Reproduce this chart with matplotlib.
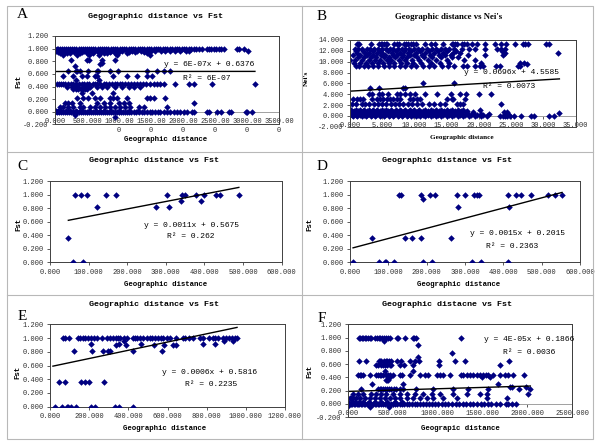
import matplotlib
matplotlib.use("Agg")
import matplotlib.pyplot as plt
from matplotlib.lines import Line2D
from matplotlib.patches import Rectangle

W, H = 600, 448
MONO = "Liberation Mono"
SERIF = "Liberation Serif"
NAVY = "#000080"

# ---------------- panel A : Gegographic distance vs Fst ----------------
a_levels = [1.0, 0.97, 0.94, 0.923, 0.896, 0.816, 0.78, 0.75, 0.72, 0.645, 0.571, 0.496,
            0.432, 0.40, 0.363, 0.304, 0.213, 0.144, 0.08, 0.02, 0.0, -0.05, -0.08]
a_rows = [
    [0, 25, 50, 80, 110, 140, 175, 205, 240, 270, 300, 335, 370, 400, 430, 465, 500, 530, 565, 600,
     630, 665, 700, 730, 770, 800, 835, 870, 900, 940, 975, 1010, 1045, 1080, 1115, 1150, 1185,
     1220, 1255, 1290, 1325, 1360, 1395, 1430, 1465, 1500, 1540, 1575, 1610, 1645, 1680, 1720,
     1755, 1790, 1830, 1870, 1905, 1940, 1980, 2015, 2050, 2090, 2130, 2170, 2210, 2250, 2290,
     2370, 2400, 2440, 2480, 2520, 2560, 2600, 2640, 2850, 2880, 2950],
    [10, 60, 120, 190, 250, 320, 380, 450, 520, 590, 660, 740, 810, 880, 960, 1040, 1120, 1200,
     1280, 1350, 1430, 1500, 1560, 1650, 1720, 1800, 1880, 1960, 2040, 2100, 3010],
    [40, 90, 150, 230, 300, 360, 420, 500, 580, 700, 780, 860, 1000, 1160, 1250, 1390, 1460],
    [78, 183, 235, 392, 496, 601, 705, 758, 810, 940, 1123, 1437],
    [130, 340, 538, 690, 967, 1490],
    [251, 507, 533, 731, 940],
    [731],
    [705],
    [313],
    [209, 329, 350, 392, 522, 653, 679, 862, 977, 1437, 1594, 1709, 1803],
    [131, 287, 418, 507, 627, 653, 914, 1123, 1280, 1437, 1515],
    [329, 690],
    [26, 57, 89, 120, 157, 209, 246, 287, 329, 371, 418, 455, 496, 538, 590, 627, 664, 705, 758,
     800, 836, 888, 930, 967, 1008, 1050, 1097, 1144, 1186, 1228, 1280, 1332, 1374, 1416, 1479,
     1541, 1594, 1636, 1698, 1881, 2090, 2168, 2455, 3124],
    [183, 261, 313, 366, 434, 486, 549, 653, 731, 810, 940, 1045, 1150, 1228, 1332],
    [287, 329, 366, 408, 444, 475, 507],
    [418, 575, 914],
    [350, 444, 522, 627, 705, 862, 914, 967, 1123, 1437, 1489, 1541, 1724],
    [157, 209, 261, 392, 653, 758, 862, 993, 1071, 1150, 2168],
    [78, 131, 209, 287, 392, 444, 549, 627, 705, 784, 862, 940, 1019, 1097, 1176, 1306, 1385, 1750],
    [10, 50, 100, 170, 240, 330, 420, 530, 640, 760, 880, 1000, 1150, 1300],
    [0, 26, 57, 89, 120, 152, 183, 214, 246, 277, 308, 340, 371, 402, 434, 465, 496, 528, 559,
     590, 622, 653, 684, 716, 747, 779, 810, 841, 873, 904, 935, 967, 998, 1029, 1061, 1092, 1123,
     1155, 1186, 1228, 1270, 1311, 1353, 1395, 1437, 1479, 1520, 1562, 1604, 1646, 1698, 1750,
     1803, 1855, 1907, 1959, 2012, 2064, 2142, 2168, 2377, 2403, 2534, 2586, 2717, 2743, 2978,
     3004, 3083],
    [313],
    [940],
]
a_fit = (6e-07, 0.6376)
a_fit_range = (0, 3124)
a_xticklabels = ["0.000", "500.000", "1000.00\n0", "1500.00\n0", "2000.00\n0",
                 "2500.00\n0", "3000.00\n0", "3500.00\n0"]
a_yticklabels = ["-0.200", "0.000", "0.200", "0.400", "0.600", "0.800", "1.000", "1.200"]

# ---------------- panel B : Geographic distance vs Nei's ----------------
b_levels = [13.3, 12.34, 11.9, 11.6, 11.23, 10.8, 10.3, 9.8, 9.5, 9.26, 6.12, 5.08, 4.03, 3.1,
            2.12, 1.08, 0.85, 0.7, 0.46, 0.35, 0.18, 0.0]
b_rows = [
    [1.04, 1.19, 1.35, 3.21, 4.51, 4.77, 5.03, 5.28, 5.54, 5.80, 6.84, 7.25, 7.62, 8.39, 8.70,
     9.07, 9.43, 9.84, 10.21, 11.66, 12.59, 13.21, 14.51, 15.80, 16.06, 16.32, 16.58, 17.36,
     17.72, 18.13, 18.91, 19.69, 20.98, 22.44, 23.42, 24.25, 25.54, 26.84, 27.20, 27.62, 30.47,
     30.83],
    [0.7, 1.3, 1.9, 2.6, 3.1, 3.8, 4.4, 4.9, 5.6, 6.2, 6.7, 7.4, 8.0, 8.6, 9.2, 9.9, 10.5, 11.2,
     12.0, 12.7, 13.3, 14.1, 14.8, 15.3, 16.2, 17.4, 18.5, 19.4, 20.9, 22.8, 23.4, 24.0],
    [0.9, 2.0, 3.5, 4.6, 5.9, 7.1, 8.4, 9.5, 10.8, 12.3, 13.6, 15.0, 16.5, 23.6],
    [1.1, 2.4, 3.0, 4.2, 5.0, 6.5, 7.7, 9.0, 10.2, 11.7, 13.0, 14.4, 16.0, 17.0, 24.1, 32.3],
    [0.5, 1.5, 2.7, 3.6, 4.8, 5.4, 6.6, 7.3, 8.2, 9.3, 10.0, 11.1, 12.4, 13.8, 14.7, 15.6, 18.3,
     21.0, 23.8],
    [1.2, 2.2, 3.3, 4.0, 5.2, 6.0, 7.0, 8.1, 8.9, 10.4, 11.5, 12.8, 14.2, 15.8, 16.8],
    [0.0, 0.8, 1.8, 2.9, 3.9, 4.7, 5.7, 6.4, 7.6, 8.5, 9.6, 10.7, 12.1, 13.4, 15.1, 17.7, 19.4],
    [0.6, 1.6, 2.5, 3.4, 4.3, 5.1, 6.1, 6.9, 7.9, 8.8, 9.8, 11.0, 12.5, 14.0, 15.4, 20.3, 26.4,
     27.0],
    [27.5],
    [0.9, 1.4, 2.1, 2.8, 3.6, 4.4, 5.3, 6.0, 6.8, 7.7, 8.5, 9.4, 10.3, 11.3, 12.2, 13.1, 14.3,
     15.2, 16.1, 17.6, 18.1, 19.4, 20.2, 20.7, 22.7, 23.3, 26.1, 26.4],
    [11.3, 16.1],
    [3.1, 4.5, 8.3, 8.6],
    [2.95, 3.37, 4.51, 4.92, 5.96, 7.25, 7.77, 8.55, 9.33, 10.1, 11.66, 13.47, 15.65, 17.1,
     17.98, 19.95, 21.87],
    [0.52, 1.04, 1.55, 2.07, 3.37, 4.15, 4.66, 5.18, 5.8, 6.22, 6.74, 7.36, 7.77, 9.33, 9.84,
     10.36, 10.88, 15.03, 15.8, 16.06, 17.88],
    [0.3, 1.0, 1.8, 2.4, 3.0, 3.7, 4.4, 5.0, 5.6, 6.3, 7.0, 7.6, 8.3, 9.0, 9.7, 10.4, 11.2, 12.2,
     13.0, 14.0, 14.8, 16.6, 17.1, 17.6, 23.4],
    [0.2, 0.9, 1.5, 2.2, 2.9, 3.6, 4.2, 4.9, 5.6, 6.3, 7.1, 7.8, 8.6, 9.3, 9.9, 10.7, 11.6, 12.5,
     13.3, 14.2, 15.0, 15.9, 16.7, 17.5, 20.1],
    [0.1, 0.6, 1.3, 2.0, 2.6, 3.4, 4.0, 4.6, 5.3, 5.9, 6.5, 7.2, 7.9, 8.4, 9.1, 9.8, 10.5, 11.3,
     12.1, 12.9, 13.8, 14.6, 15.5, 16.3, 17.2, 18.1],
    [0.5, 1.2, 1.9, 2.6, 3.3, 4.0, 4.7, 5.4, 6.1, 6.8, 7.5, 8.2, 8.9, 9.6, 10.3, 11.0, 11.8, 12.7,
     13.5, 14.4, 15.3, 16.2, 17.1, 18.0, 19.1, 23.9, 24.4],
    [32.5],
    [0.1, 0.8, 1.6, 2.3, 3.0, 3.8, 4.5, 5.2, 5.9, 6.6, 7.3, 8.0, 8.7, 9.4, 10.1, 10.8, 11.6, 12.4,
     13.2, 14.0, 14.9, 15.7, 16.6, 17.4, 18.3, 19.2, 20.4, 21.5, 24.6],
    [0.3, 0.9, 1.5, 2.1, 2.7, 3.4, 4.1, 4.8, 5.5, 6.2, 6.9, 7.6, 8.3, 9.0, 9.8, 10.5, 11.3, 12.1,
     12.9, 13.7, 14.5, 15.4, 16.2, 17.0, 17.9, 18.8, 19.7, 20.6],
    [0.4, 1.1, 1.8, 2.5, 3.2, 3.9, 4.6, 5.3, 6.0, 6.7, 7.4, 8.1, 8.8, 9.5, 10.2, 10.9, 11.7, 12.5,
     13.3, 14.1, 15.0, 15.8, 16.7, 17.6, 18.5, 19.4, 20.3, 21.2, 23.3, 23.7, 24.1, 24.4, 24.9,
     25.5, 26.6, 28.1, 28.6, 30.9, 31.6],
]
b_fit = (0.0696, 4.5585)
b_fit_range = (0, 32.5)
b_xticklabels = ["0.000", "5.000", "10.000", "15.000", "20.000", "25.000", "30.000", "35.000"]
b_yticklabels = ["-2.000", "0.000", "2.000", "4.000", "6.000", "8.000", "10.000", "12.000",
                 "14.000"]

# ---------------- panel C ----------------
c_x = [47.5, 58.7, 64, 80, 85, 95, 123, 145, 171, 275, 304, 307, 338, 342, 350, 378, 391, 400,
       429, 440, 489]
c_y = [0.36, 0.0, 1.0, 1.0, 0.0, 1.0, 0.82, 1.0, 1.0, 0.82, 1.0, 0.82, 0.905, 1.0, 1.0, 1.0,
       0.905, 1.0, 1.0, 1.0, 1.0]
c_fit = (0.0011, 0.5675)
c_fit_range = (47.5, 489)

# ---------------- panel D ----------------
d_x = [8, 56.5, 75.7, 90, 94, 115, 127, 134, 143.5, 162.6, 186, 186, 190, 191, 208, 213, 223,
       263, 279, 283, 300, 319, 323, 330, 336.5, 342, 412, 412, 416, 433, 445, 471, 517, 536, 553]
d_y = [0.0, 0.36, 0.0, 0.0, 0.0, 0.0, 1.0, 1.0, 0.36, 0.36, 1.0, 0.36, 0.93, 0.0, 1.0, 0.0, 1.0,
       0.36, 1.0, 0.82, 1.0, 0.0, 1.0, 1.0, 1.0, 0.0, 1.0, 0.0, 0.82, 1.0, 1.0, 1.0, 1.0, 1.0, 1.0]
d_fit = (0.0015, 0.2015)
d_fit_range = (8, 553)
cd_xticklabels = ["0.000", "100.000", "200.000", "300.000", "400.000", "500.000", "600.000"]
pos_yticklabels = ["0.000", "0.200", "0.400", "0.600", "0.800", "1.000", "1.200"]

# ---------------- panel E ----------------
e_levels = [1.0, 0.95, 0.92, 0.90, 0.81, 0.355, 0.0]
e_rows = [
    [65, 78, 97, 145, 155, 168, 180, 192, 208, 225, 240, 265, 292, 306, 323, 338, 345, 355, 378,
     395, 422, 432, 442, 460, 477, 497, 510, 521, 538, 551, 568, 578, 595, 615, 645, 680, 690,
     710, 730, 765, 780, 810, 830, 845, 860, 885, 900, 915, 930, 945, 955],
    [378, 888, 933],
    [208, 350, 465, 783, 843],
    [335, 386, 533, 584, 630, 642],
    [122, 214, 269, 298, 306, 425, 573],
    [48, 78, 160, 179, 200, 277],
    [25, 61, 85, 94, 105, 133, 208, 230, 332, 352, 422],
]
e_fit = (0.0006, 0.5816)
e_fit_range = (15, 955)
e_xticklabels = ["0.000", "200.000", "400.000", "600.000", "800.000", "1000.000", "1200.000"]

# ---------------- panel F ----------------
f_levels = [1.0, 0.95, 0.88, 0.77, 0.71, 0.65, 0.58, 0.5, 0.437, 0.40, 0.36, 0.30, 0.25, 0.226,
            0.15, 0.08, 0.03, 0.0, -0.03, -0.05]
f_rows = [
    [123, 138, 153, 168, 186, 205, 224, 242, 261, 298, 324, 343, 362, 384, 407, 429, 448, 466,
     548, 563, 634, 727, 742, 757, 1261],
    [403],
    [783],
    [1156],
    [776],
    [123, 198, 343, 358, 373, 399, 421, 436, 459, 485, 548, 586, 690, 746, 791, 1018, 1194, 1305,
     1801],
    [317, 339, 366, 392, 414, 436, 466, 485, 578, 627, 727, 1018, 1698],
    [410, 720],
    [112, 131, 149, 168, 243, 317, 336, 354, 373, 392, 421, 448, 474, 504, 578, 601, 690, 802,
     858, 896, 989, 1026, 1063, 1138, 1257, 1287, 1324, 1362, 1399, 1436, 1474, 1511, 1541, 1567,
     1623, 1698, 1754, 1791, 1847, 1959],
    [466, 1492, 1586],
    [421, 436, 451],
    [272, 616, 1679],
    [1810, 1828, 1990],
    [149, 336, 354, 373, 392, 410, 436, 459, 485, 511, 541, 578, 616, 757, 951, 1175, 1343, 1567,
     1903, 2031],
    [56, 112, 168, 261, 317, 373, 429, 504, 578, 653, 746, 839, 933, 1026, 1175, 1324, 1474, 1548,
     2006],
    [19, 37, 56, 93, 131, 186, 243, 298, 354, 410, 466, 522, 578, 653, 727, 802, 877, 951, 1063,
     1212, 1548, 1772],
    [5, 40, 75, 120, 170, 230, 300, 370, 440, 520, 600],
    [0, 15, 30, 48, 62, 80, 95, 112, 128, 145, 160, 178, 195, 210, 228, 245, 262, 280, 298, 315,
     332, 350, 370, 390, 410, 430, 452, 475, 500, 525, 550, 575, 600, 628, 655, 685, 715, 745,
     775, 805, 835, 870, 905, 940, 975, 1010, 1045, 1080, 1120, 1160, 1200, 1240, 1280, 1320,
     1360, 1400, 1440, 1480, 1520, 1560, 1600, 1650, 1700, 1760, 1790, 1830, 1880],
    [0],
    [250, 459],
]
f_fit = (4e-05, 0.1866)
f_fit_range = (0, 2035)
f_xticklabels = ["0.000", "500.000", "1000.000", "1500.000", "2000.000", "2500.000"]


def flatten(levels, rows):
    """Turn per-level x lists into x and y lists."""
    xs, ys = [], []
    for level, row in zip(levels, rows):
        xs += row
        ys += [level] * len(row)
    return xs, ys


def px_rect(left, top, right, bottom):
    return [left / W, 1 - bottom / H, (right - left) / W, (bottom - top) / H]


def fig_text(fig, x, y, s, **kw):
    fig.text(x / W, 1 - y / H, s, ha="center", va="center", **kw)


def draw_panel(fig, rect, xs, ys, fit, fit_range, xlim, ylim, xticklabels, yticklabels,
               axis_at_zero):
    ax = fig.add_axes(px_rect(*rect))
    for sp in ax.spines.values():
        sp.set_color("#404040")
        sp.set_linewidth(0.7)
    if axis_at_zero:
        # Excel-style: category axis crosses at 0, labels sit under it
        ax.spines["bottom"].set_position(("data", 0))
        ax.spines["bottom"].set_color("#a0a0a0")
        ax.add_patch(Rectangle((0, 0), 1, 1, transform=ax.transAxes, fill=False,
                               edgecolor="#404040", lw=0.7, zorder=5, clip_on=False))
    ax.scatter(xs, ys, marker="D", s=11, color=NAVY, linewidths=0, zorder=3)
    slope, icpt = fit
    x0, x1 = fit_range
    ax.plot([x0, x1], [slope * x0 + icpt, slope * x1 + icpt], color="black", lw=1.0, zorder=4)
    ax.set_xlim(*xlim)
    ax.set_ylim(*ylim)
    n = len(xticklabels)
    ax.set_xticks([xlim[0] + i * (xlim[1] - xlim[0]) / (n - 1) for i in range(n)])
    ax.set_xticklabels(xticklabels, fontfamily=MONO, fontsize=5, linespacing=1.3)
    m = len(yticklabels)
    ax.set_yticks([ylim[0] + i * (ylim[1] - ylim[0]) / (m - 1) for i in range(m)])
    ax.set_yticklabels(yticklabels, fontfamily=MONO, fontsize=5)
    ax.tick_params(axis="both", length=2, width=0.6, pad=2.5, colors="#404040")
    ax.tick_params(axis="both", labelcolor="#303030")
    return ax


def main():
    fig = plt.figure(figsize=(6, 4.48), dpi=100)

    # panel grid
    line_kw = dict(color="#b8b8b8", lw=0.8)
    fig.add_artist(Rectangle((7 / W, 1 - 439 / H), 586 / W, 433 / H, transform=fig.transFigure,
                             fill=False, edgecolor="#b8b8b8", lw=0.8))
    fig.add_artist(Line2D([302 / W, 302 / W], [1 - 6 / H, 1 - 439 / H], **line_kw))
    fig.add_artist(Line2D([7 / W, 593 / W], [1 - 152 / H, 1 - 152 / H], **line_kw))
    fig.add_artist(Line2D([7 / W, 593 / W], [1 - 295 / H, 1 - 295 / H], **line_kw))

    ax_x, ax_y = flatten(a_levels, a_rows)
    draw_panel(fig, (55, 36, 279, 124.4), ax_x, ax_y, a_fit, a_fit_range, (0, 3500),
               (-0.2, 1.2), a_xticklabels, a_yticklabels, True)
    bx, by = flatten(b_levels, b_rows)
    draw_panel(fig, (350, 40, 575.5, 126.7), bx, by, b_fit, b_fit_range, (0, 35), (-2, 14),
               b_xticklabels, b_yticklabels, True)
    draw_panel(fig, (50, 181, 281.7, 262.3), c_x, c_y, c_fit, c_fit_range, (0, 600), (0, 1.2),
               cd_xticklabels, pos_yticklabels, False)
    draw_panel(fig, (350, 181, 580, 262.3), d_x, d_y, d_fit, d_fit_range, (0, 600), (0, 1.2),
               cd_xticklabels, pos_yticklabels, False)
    ex, ey = flatten(e_levels, e_rows)
    draw_panel(fig, (50, 324.3, 285, 406.7), ex, ey, e_fit, e_fit_range, (0, 1200), (0, 1.2),
               e_xticklabels, pos_yticklabels, False)
    fx, fy = flatten(f_levels, f_rows)
    draw_panel(fig, (348, 324.3, 572, 417), fx, fy, f_fit, f_fit_range, (0, 2500), (-0.2, 1.2),
               f_xticklabels, a_yticklabels, True)

    # titles
    mono_title = dict(fontfamily=MONO, fontsize=6, fontweight="bold")
    fig_text(fig, 155, 16, "Gegographic distance vs Fst", **mono_title)
    fig_text(fig, 449, 17, "Geographic distance vs Nei's", fontfamily=SERIF, fontsize=6.3,
             fontweight="bold")
    fig_text(fig, 154, 161, "Geographic distance vs Fst", **mono_title)
    fig_text(fig, 447, 161, "Geographic distance vs Fst", **mono_title)
    fig_text(fig, 154, 305, "Geographic distance vs Fst", **mono_title)
    fig_text(fig, 447, 305, "Geographic distacne vs Fst", **mono_title)

    # axis labels
    mono_lab = dict(fontfamily=MONO, fontsize=5.3, fontweight="bold")
    fig_text(fig, 166, 139, "Geographic distance", **mono_lab)
    fig_text(fig, 462, 138, "Geographic distance", fontfamily=SERIF, fontsize=5.2,
             fontweight="bold")
    fig_text(fig, 166, 284, "Geographic distance", **mono_lab)
    fig_text(fig, 459, 284, "Geographic distance", **mono_lab)
    fig_text(fig, 165, 428, "Geographic distance", **mono_lab)
    fig_text(fig, 460, 428, "Geograpic distance", **mono_lab)
    fig_text(fig, 19, 81, "Fst", rotation=90, **mono_lab)
    fig_text(fig, 306, 78, "Nei's", rotation=90, fontfamily=SERIF, fontsize=5.2,
             fontweight="bold")
    fig_text(fig, 19, 224, "Fst", rotation=90, **mono_lab)
    fig_text(fig, 310, 224, "Fst", rotation=90, **mono_lab)
    fig_text(fig, 18, 372, "Fst", rotation=90, **mono_lab)
    fig_text(fig, 310, 371, "Fst", rotation=90, **mono_lab)

    # trend line equations
    eq = dict(fontfamily=MONO, fontsize=5.8)
    fig_text(fig, 209, 65, "y = 6E-07x + 0.6376", **eq)
    fig_text(fig, 207, 78, "R² = 6E-07", **eq)
    fig_text(fig, 512, 73, "y = 0.0696x + 4.5585", **eq)
    fig_text(fig, 509, 86, "R² = 0.0073", **eq)
    fig_text(fig, 192, 225, "y = 0.0011x + 0.5675", **eq)
    fig_text(fig, 191, 237, "R² = 0.262", **eq)
    fig_text(fig, 517, 233, "y = 0.0015x + 0.2015", **eq)
    fig_text(fig, 512, 246, "R² = 0.2363", **eq)
    fig_text(fig, 210, 372, "y = 0.0006x + 0.5816", **eq)
    fig_text(fig, 211, 384, "R² = 0.2235", **eq)
    fig_text(fig, 529, 339, "y = 4E-05x + 0.1866", **eq)
    fig_text(fig, 529, 352, "R² = 0.0036", **eq)

    # panel letters
    for letter, x, y in [("A", 22, 15), ("B", 322, 16), ("C", 22, 166), ("D", 322, 166),
                         ("E", 22, 317), ("F", 322, 318)]:
        fig_text(fig, x, y, letter, fontfamily=SERIF, fontsize=11)

    fig.savefig("out.png", dpi=100)


if __name__ == '__main__':
    main()
